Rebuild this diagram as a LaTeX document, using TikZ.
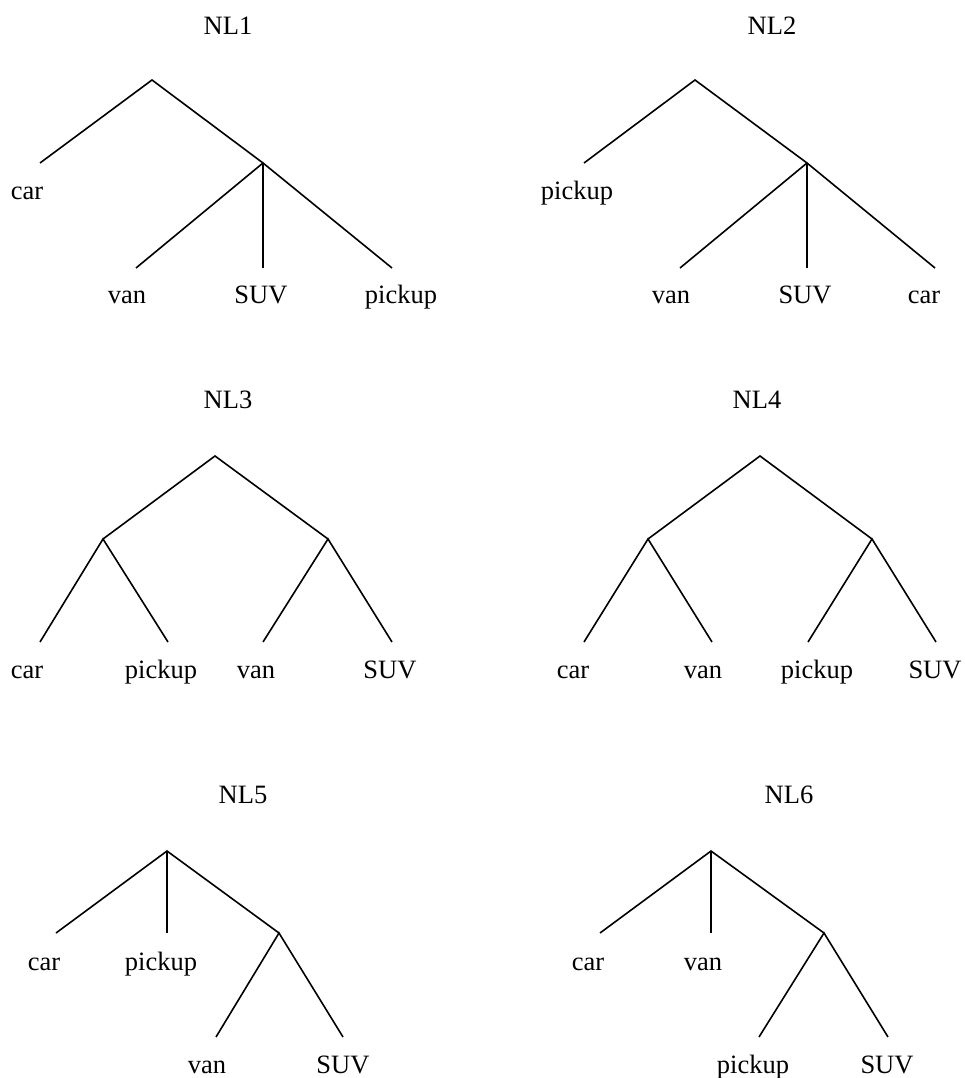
\documentclass[tikz,border=0pt]{standalone}
\usepackage{fontspec}
\setmainfont{Liberation Serif}
\begin{document}
\begin{tikzpicture}[x=1pt,y=-1pt,
  edge/.style={line width=1.6pt,line cap=butt},
  lbl/.style={anchor=base,inner sep=0pt,font=\fontsize{26.5}{30}\selectfont},
  ttl/.style={anchor=base,inner sep=0pt,font=\fontsize{26.5}{30}\selectfont}]
\useasboundingbox (0,0) rectangle (964,1078);
% ---------- NL1 ----------
\node[ttl] (t1) at (228,35) {NL1};
\coordinate (a1r) at (152,80);
\coordinate (a1l) at (40,163);
\coordinate (a1i) at (263,163);
\coordinate (a1a) at (136,268);
\coordinate (a1b) at (263,268);
\coordinate (a1c) at (392,268);
\draw[edge] (a1l) -- (a1r) -- (a1i);
\draw[edge] (a1a) -- (a1i) -- (a1c);
\draw[edge] (a1i) -- (a1b);
\node[lbl] (n1l) at (27,200) {car};
\node[lbl] (n1a) at (127,303) {van};
\node[lbl] (n1b) at (261,303) {SUV};
\node[lbl] (n1c) at (401,303) {pickup};
% ---------- NL2 ----------
\node[ttl] (t2) at (772,35) {NL2};
\coordinate (a2r) at (695,80);
\coordinate (a2l) at (584,163);
\coordinate (a2i) at (807,163);
\coordinate (a2a) at (680,268);
\coordinate (a2b) at (807,268);
\coordinate (a2c) at (935,268);
\draw[edge] (a2l) -- (a2r) -- (a2i);
\draw[edge] (a2a) -- (a2i) -- (a2c);
\draw[edge] (a2i) -- (a2b);
\node[lbl] (n2l) at (577,200) {pickup};
\node[lbl] (n2a) at (671,303) {van};
\node[lbl] (n2b) at (805,303) {SUV};
\node[lbl] (n2c) at (924,303) {car};
% ---------- NL3 ----------
\node[ttl] (t3) at (228,408) {NL3};
\coordinate (a3r) at (215,456);
\coordinate (a3p) at (103,539);
\coordinate (a3q) at (328,539);
\coordinate (a3a) at (40,642);
\coordinate (a3b) at (168,642);
\coordinate (a3c) at (263,642);
\coordinate (a3d) at (392,642);
\draw[edge] (a3p) -- (a3r) -- (a3q);
\draw[edge] (a3a) -- (a3p) -- (a3b);
\draw[edge] (a3c) -- (a3q) -- (a3d);
\node[lbl] (n3a) at (27,678) {car};
\node[lbl] (n3b) at (161,678) {pickup};
\node[lbl] (n3c) at (256,678) {van};
\node[lbl] (n3d) at (390,678) {SUV};
% ---------- NL4 ----------
\node[ttl] (t4) at (757,408) {NL4};
\coordinate (a4r) at (760,456);
\coordinate (a4p) at (648,539);
\coordinate (a4q) at (872,539);
\coordinate (a4a) at (584,642);
\coordinate (a4b) at (712,642);
\coordinate (a4c) at (808,642);
\coordinate (a4d) at (936,642);
\draw[edge] (a4p) -- (a4r) -- (a4q);
\draw[edge] (a4a) -- (a4p) -- (a4b);
\draw[edge] (a4c) -- (a4q) -- (a4d);
\node[lbl] (n4a) at (573,678) {car};
\node[lbl] (n4b) at (703,678) {van};
\node[lbl] (n4c) at (817,678) {pickup};
\node[lbl] (n4d) at (935,678) {SUV};
% ---------- NL5 ----------
\node[ttl] (t5) at (243,803) {NL5};
\coordinate (a5r) at (167,851);
\coordinate (a5l) at (56,933);
\coordinate (a5m) at (167,933);
\coordinate (a5i) at (279,933);
\coordinate (a5a) at (216,1037);
\coordinate (a5b) at (343,1037);
\draw[edge] (a5l) -- (a5r) -- (a5i);
\draw[edge] (a5r) -- (a5m);
\draw[edge] (a5a) -- (a5i) -- (a5b);
\node[lbl] (n5l) at (44,970) {car};
\node[lbl] (n5m) at (161,970) {pickup};
\node[lbl] (n5a) at (207,1073) {van};
\node[lbl] (n5b) at (343,1073) {SUV};
% ---------- NL6 ----------
\node[ttl] (t6) at (789,803) {NL6};
\coordinate (a6r) at (711,851);
\coordinate (a6l) at (600,933);
\coordinate (a6m) at (711,933);
\coordinate (a6i) at (824,933);
\coordinate (a6a) at (759,1037);
\coordinate (a6b) at (888,1037);
\draw[edge] (a6l) -- (a6r) -- (a6i);
\draw[edge] (a6r) -- (a6m);
\draw[edge] (a6a) -- (a6i) -- (a6b);
\node[lbl] (n6l) at (588,970) {car};
\node[lbl] (n6m) at (703,970) {van};
\node[lbl] (n6a) at (753,1073) {pickup};
\node[lbl] (n6b) at (887,1073) {SUV};
\end{tikzpicture}
\end{document}
